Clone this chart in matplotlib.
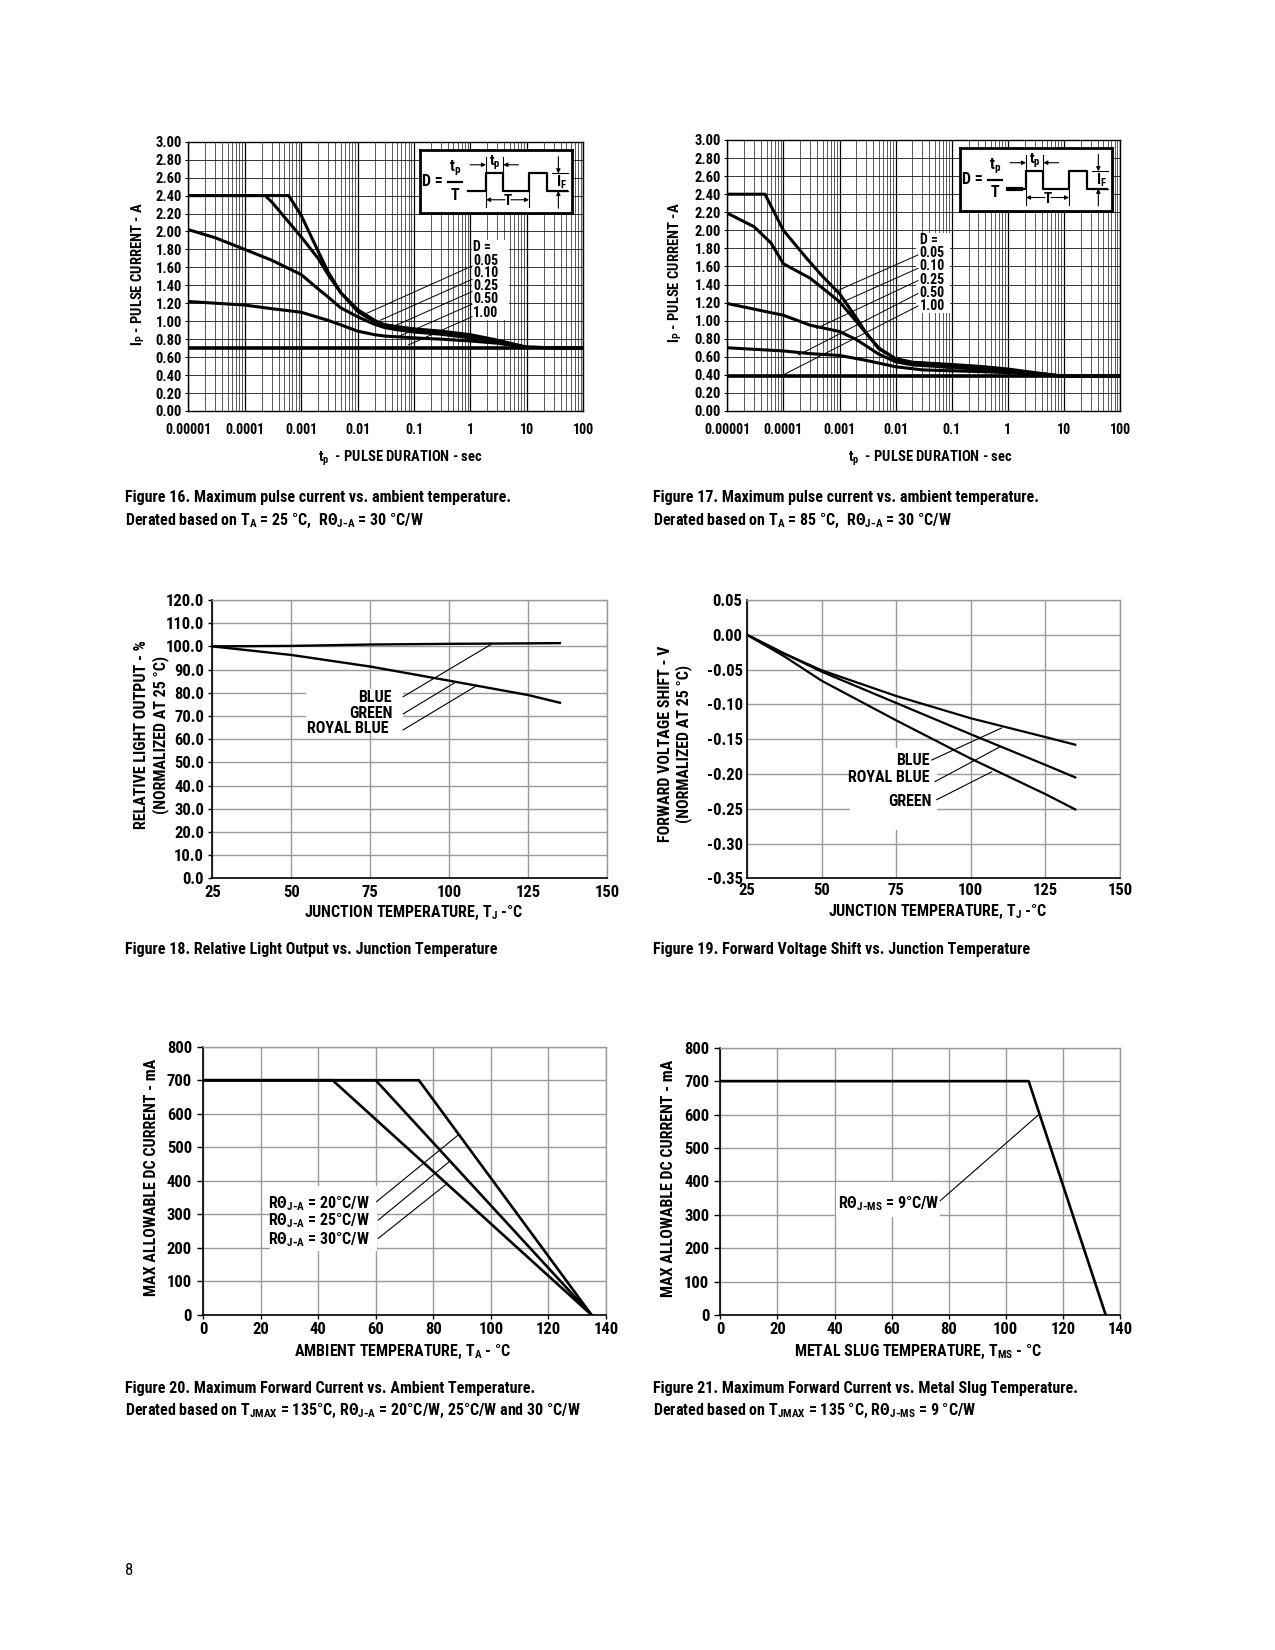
import numpy as np
import matplotlib
matplotlib.use('Agg')
import matplotlib.pyplot as plt
from matplotlib import font_manager as fm
from matplotlib.patches import Rectangle
from matplotlib.ticker import LogLocator, NullFormatter, FixedLocator

W, H = 1275, 1650
_names = {f.name for f in fm.fontManager.ttflist}
FONT = 'DejaVu Sans'
for cand in ['Liberation Sans Narrow', 'Roboto Condensed', 'Open Sans Condensed', 'Liberation Sans']:
    if cand in _names:
        FONT = cand
        break
plt.rcParams['font.family'] = [FONT, 'DejaVu Sans']
plt.rcParams['font.weight'] = 'bold'
plt.rcParams['mathtext.default'] = 'regular'
plt.rcParams['axes.unicode_minus'] = False

# ------------------------- DATA -------------------------
# Figure 16 : pulse current (A) vs pulse duration (s), TA = 25 C
f16_d005_t = [1e-5, 6e-4, 1e-3, 2e-3, 3e-3, 5e-3, 1e-2, 1.5e-2, 2e-2, 3e-2, 1e-1, 0.3, 1, 3, 10, 100]
f16_d005_i = [2.40, 2.40, 2.18, 1.78, 1.55, 1.32, 1.11, 1.04, 1.00, 0.96, 0.915, 0.89, 0.85, 0.79, 0.71, 0.70]
f16_d010_t = [1e-5, 2.3e-4, 3e-4, 1e-3, 2e-3, 3e-3, 5e-3, 1e-2, 2e-2, 3e-2, 1e-1, 0.3, 1, 3, 10, 100]
f16_d010_i = [2.40, 2.40, 2.33, 1.94, 1.70, 1.52, 1.32, 1.13, 1.01, 0.96, 0.90, 0.87, 0.83, 0.78, 0.71, 0.70]
f16_d025_t = [1e-5, 3e-5, 1e-4, 3e-4, 1e-3, 2e-3, 3e-3, 5e-3, 1e-2, 2e-2, 3e-2, 5e-2, 1e-1, 0.3, 1, 3, 10, 100]
f16_d025_i = [2.02, 1.93, 1.80, 1.68, 1.52, 1.36, 1.27, 1.15, 1.05, 0.965, 0.93, 0.905, 0.88, 0.855, 0.815, 0.77, 0.71, 0.70]
f16_d050_t = [1e-5, 1e-4, 3e-4, 1e-3, 3e-3, 5e-3, 1e-2, 2e-2, 3e-2, 1e-1, 0.3, 1, 3, 10, 100]
f16_d050_i = [1.22, 1.18, 1.14, 1.10, 1.01, 0.96, 0.89, 0.85, 0.835, 0.815, 0.80, 0.78, 0.755, 0.71, 0.70]
f16_d100_t = [1e-5, 100]
f16_d100_i = [0.70, 0.70]

# Figure 17 : pulse current (A) vs pulse duration (s), TA = 85 C
f17_d005_t = [1e-5, 4.7e-5, 1e-4, 2.6e-4, 5e-4, 1e-3, 2e-3, 3e-3, 5e-3, 1e-2, 2e-2, 5e-2, 1e-1, 0.3, 1, 3, 10, 100]
f17_d005_i = [2.40, 2.40, 2.00, 1.69, 1.49, 1.30, 1.03, 0.86, 0.69, 0.58, 0.54, 0.525, 0.515, 0.495, 0.465, 0.425, 0.385, 0.385]
f17_d010_t = [1e-5, 3e-5, 6e-5, 1e-4, 3e-4, 1e-3, 2e-3, 3e-3, 5e-3, 1e-2, 2e-2, 5e-2, 1e-1, 0.3, 1, 3, 10, 100]
f17_d010_i = [2.19, 2.04, 1.86, 1.63, 1.47, 1.21, 0.99, 0.86, 0.70, 0.575, 0.535, 0.52, 0.505, 0.485, 0.455, 0.42, 0.385, 0.385]
f17_d025_t = [1e-5, 1e-4, 3e-4, 1e-3, 2e-3, 3e-3, 5e-3, 1e-2, 2e-2, 5e-2, 1e-1, 0.3, 1, 3, 10, 100]
f17_d025_i = [1.19, 1.06, 0.95, 0.88, 0.79, 0.72, 0.63, 0.545, 0.51, 0.495, 0.48, 0.465, 0.44, 0.41, 0.385, 0.385]
f17_d050_t = [1e-5, 1e-4, 3e-4, 1e-3, 3e-3, 1e-2, 3e-2, 1e-1, 0.3, 1, 3, 10, 100]
f17_d050_i = [0.70, 0.665, 0.635, 0.615, 0.56, 0.49, 0.455, 0.445, 0.437, 0.425, 0.405, 0.385, 0.385]
f17_d100_t = [1e-5, 100]
f17_d100_i = [0.385, 0.385]

duty_labels = ['0.05', '0.10', '0.25', '0.50', '1.00']
pulse_xticks = [1e-5, 1e-4, 1e-3, 1e-2, 1e-1, 1, 10, 100]
pulse_xlabels = ['0.00001', '0.0001', '0.001', '0.01', '0.1', '1', '10', '100']

# Figure 18 : relative light output (%) vs Tj
tj18 = [25, 50, 75, 100, 125, 135]
blue18 = [100.0, 100.2, 100.8, 101.1, 101.3, 101.4]
green_royal18 = [100.0, 96.3, 91.3, 85.2, 79.0, 75.7]

# Figure 19 : forward voltage shift (V) vs Tj
tj19 = [25, 37.5, 50, 75, 100, 125, 135]
blue19 = [0.0, -0.027, -0.051, -0.088, -0.120, -0.147, -0.158]
royal19 = [0.0, -0.027, -0.053, -0.098, -0.143, -0.187, -0.205]
green19 = [0.0, -0.031, -0.066, -0.123, -0.178, -0.229, -0.251]

# Figure 20 : max DC current (mA) vs ambient temperature
ta20_r20 = [0, 75, 135]
ta20_r25 = [0, 60, 135]
ta20_r30 = [0, 45, 135]
i20 = [700, 700, 0]

# Figure 21 : max DC current (mA) vs metal slug temperature
tms21 = [0, 108, 135]
i21 = [700, 700, 0]

# ------------------------- FIGURE -------------------------
fig = plt.figure(figsize=(W / 100, H / 100), dpi=100)
fig.patch.set_facecolor('white')


def axes_px(l, r, t, b):
    return fig.add_axes([l / W, 1 - b / H, (r - l) / W, (b - t) / H])


def ftext(x, y, s, **kw):
    kw.setdefault('ha', 'center')
    kw.setdefault('va', 'center')
    return fig.text(x / W, 1 - y / H, s, **kw)


def arrow(ax, xy, xytext):
    ax.annotate('', xy=xy, xytext=xytext,
                arrowprops=dict(arrowstyle='-|>', color='k', lw=0.8,
                                mutation_scale=6, shrinkA=0, shrinkB=0))


def pulse_inset(rect, thick_lead=False):
    ia = fig.add_axes(rect, zorder=6)
    ia.set_xlim(0, 1)
    ia.set_ylim(0, 1)
    ia.set_xticks([])
    ia.set_yticks([])
    ia.set_facecolor('white')
    for s in ia.spines.values():
        s.set_linewidth(2.0)
    ia.text(0.015, 0.50, 'D =', fontsize=11.5, ha='left', va='center')
    ia.text(0.232, 0.71, 't$_p$', fontsize=11.5, ha='center', va='center')
    ia.plot([0.185, 0.28], [0.50, 0.50], color='k', lw=1.6)
    ia.text(0.232, 0.29, 'T', fontsize=11.5, ha='center', va='center')
    low, high = 0.355, 0.634
    wx = [0.319, 0.435, 0.435, 0.549, 0.549, 0.719, 0.719, 0.835, 0.835, 0.967]
    wy = [low, low, high, high, low, low, high, high, low, low]
    ia.plot(wx, wy, color='k', lw=1.6)
    if thick_lead:
        ia.plot([0.319, 0.40], [low, low], color='k', lw=3)
    for x in (0.435, 0.549):
        ia.plot([x, x], [high, 0.90], color='k', lw=0.8)
    arrow(ia, (0.435, 0.77), (0.33, 0.77))
    arrow(ia, (0.549, 0.77), (0.65, 0.77))
    ia.text(0.492, 0.80, 't$_p$', fontsize=11, ha='center', va='center')
    for x in (0.435, 0.719):
        ia.plot([x, x], [0.10, low], color='k', lw=0.8)
    arrow(ia, (0.435, 0.215), (0.56, 0.215))
    arrow(ia, (0.719, 0.215), (0.60, 0.215))
    ia.text(0.58, 0.19, 'T', fontsize=11, ha='center', va='center')
    ia.plot([0.87, 0.975], [high, high], color='k', lw=0.8)
    ia.plot([0.87, 0.975], [low, low], color='k', lw=0.8)
    arrow(ia, (0.912, high), (0.912, 0.90))
    arrow(ia, (0.912, low), (0.912, 0.08))
    ia.text(0.897, 0.49, 'I$_F$', fontsize=11, ha='left', va='center')
    return ia


def pulse_axes(ax, curves, labels_x, labels_y, leaders, white_box):
    ax.set_xscale('log')
    ax.set_xlim(1e-5, 100)
    ax.set_ylim(0, 3.0)
    ax.set_axisbelow(True)
    ax.xaxis.set_major_locator(FixedLocator(pulse_xticks))
    ax.set_xticklabels(pulse_xlabels)
    ax.xaxis.set_minor_locator(LogLocator(base=10, subs=np.arange(2, 10), numticks=20))
    ax.xaxis.set_minor_formatter(NullFormatter())
    yt = np.round(np.arange(0, 3.01, 0.2), 2)
    ax.set_yticks(yt)
    ax.set_yticklabels(['%.2f' % v for v in yt])
    ax.grid(which='major', axis='x', color='k', lw=0.9)
    ax.grid(which='minor', axis='x', color='k', lw=0.45)
    ax.grid(which='major', axis='y', color='k', lw=0.55)
    ax.tick_params(axis='x', which='both', length=0, pad=8.5, labelsize=10)
    ax.tick_params(axis='y', length=2.5, pad=2, labelsize=10.5)
    for s in ax.spines.values():
        s.set_linewidth(1.0)
    for (t, i), lw in curves:
        ax.plot(t, i, color='k', lw=lw, solid_capstyle='butt', solid_joinstyle='round', zorder=3)
    (bx0, bx1), (by0, by1) = white_box
    ax.add_patch(Rectangle((bx0, by0), bx1 - bx0, by1 - by0, facecolor='white',
                           edgecolor='none', zorder=1.5))
    texts = ['D ='] + duty_labels
    for s, y in zip(texts, labels_y):
        ax.text(labels_x, y, s, fontsize=10, ha='left', va='center', zorder=4)
    for (p0, p1) in leaders:
        ax.plot([p0[0], p1[0]], [p0[1], p1[1]], color='k', lw=0.7, zorder=3)


# ---------------- Figure 16 ----------------
ax16 = axes_px(188.3, 583.3, 141.7, 411)
pulse_axes(ax16,
           [((f16_d005_t, f16_d005_i), 2.2), ((f16_d010_t, f16_d010_i), 2.2),
            ((f16_d025_t, f16_d025_i), 2.2), ((f16_d050_t, f16_d050_i), 2.2),
            ((f16_d100_t, f16_d100_i), 2.6)],
           1.11, [1.823, 1.675, 1.534, 1.392, 1.244, 1.095],
           [((0.0147, 1.09), (1.07, 1.615)), ((0.025, 1.01), (1.07, 1.467)),
            ((0.0376, 0.925), (1.07, 1.33)), ((0.0535, 0.83), (1.07, 1.19)),
            ((0.079, 0.735), (1.07, 1.05))],
           ((1.07, 4.8), (1.014, 1.905)))
pulse_inset([420 / W, 1 - 213.3 / H, 151.7 / W, 63 / H])
ftext(138.3, 274, 'I$_P$ - PULSE CURRENT - A', rotation=90, fontsize=10.5)
ftext(400, 458.7, 't$_p$  - PULSE DURATION - sec', fontsize=10.5)

# ---------------- Figure 17 ----------------
ax17 = axes_px(727.3, 1120, 140, 411)
pulse_axes(ax17,
           [((f17_d005_t, f17_d005_i), 2.2), ((f17_d010_t, f17_d010_i), 2.2),
            ((f17_d025_t, f17_d025_i), 2.2), ((f17_d050_t, f17_d050_i), 2.2),
            ((f17_d100_t, f17_d100_i), 2.6)],
           0.027, [1.89, 1.745, 1.60, 1.455, 1.31, 1.165],
           [((8.3e-4, 1.32), (0.025, 1.727)), ((1.17e-3, 1.21), (0.025, 1.579)),
            ((3.9e-4, 0.915), (0.025, 1.443)), ((1.86e-4, 0.62), (0.025, 1.30)),
            ((1e-4, 0.40), (0.025, 1.162))],
           ((0.0235, 0.093), (1.08, 1.967)))
pulse_inset([960 / W, 1 - 211 / H, 151.7 / W, 62.7 / H], thick_lead=True)
ftext(675, 273, 'I$_P$ - PULSE CURRENT -A', rotation=90, fontsize=10.5)
ftext(930, 458.3, 't$_p$  - PULSE DURATION - sec', fontsize=10.5)

GRID = '#9a9a9a'


def fmt_zero(fmt):
    return lambda v: fmt % (0.0 if abs(v) < 1e-9 else v)


def temp_axes(ax, xlim, xt, ylim, yt, yfmt, ylen=3.0, ypad=3.0, xpad=4.5, xlen=0):
    ax.set_xlim(*xlim)
    ax.set_ylim(*ylim)
    ax.set_axisbelow(True)
    ax.set_xticks(xt)
    ax.set_yticks(yt)
    ax.set_yticklabels([yfmt(v) for v in yt])
    ax.grid(True, color=GRID, lw=1.0)
    ax.tick_params(axis='y', length=ylen, pad=ypad, labelsize=12, width=1)
    ax.tick_params(axis='x', length=xlen, pad=xpad, labelsize=12, width=1)
    for side in ('top', 'right'):
        ax.spines[side].set_color(GRID)
        ax.spines[side].set_linewidth(1.0)
    for side in ('left', 'bottom'):
        ax.spines[side].set_color('k')
        ax.spines[side].set_linewidth(1.2)


# ---------------- Figure 18 ----------------
ax18 = axes_px(212.3, 607.3, 600, 878.3)
temp_axes(ax18, (25, 150), [25, 50, 75, 100, 125, 150], (0, 120),
          np.arange(0, 121, 10), fmt_zero('%.1f'), ylen=3.0, ypad=3.0)
ax18.plot(tj18, blue18, color='k', lw=1.7, zorder=3)
ax18.plot(tj18, green_royal18, color='k', lw=1.7, zorder=3)
ax18.add_patch(Rectangle((54.5, 62.5), 85.4 - 54.5, 81.5 - 62.5, facecolor='white',
                         edgecolor='none', zorder=1.5))
for s, x, y in [('BLUE', 81.8, 78.0), ('GREEN', 82.1, 70.9), ('ROYAL BLUE', 80.8, 64.7)]:
    ax18.text(x, y, s, fontsize=11.5, ha='right', va='center', zorder=4)
for p0, p1 in [((85.4, 78.3), (113.4, 101.0)), ((85.4, 70.9), (101.8, 84.4)),
               ((85.4, 64.0), (108.1, 82.6))]:
    ax18.plot([p0[0], p1[0]], [p0[1], p1[1]], color='k', lw=0.8, zorder=3)
ftext(151.7, 735, 'RELATIVE LIGHT OUTPUT - %\n(NORMALIZED AT 25 °C)', rotation=90,
      fontsize=11.5, linespacing=1.2, multialignment='center')
ftext(413.3, 912.7, 'JUNCTION TEMPERATURE, T$_J$ -°C', fontsize=11.5)

# ---------------- Figure 19 ----------------
ax19 = axes_px(747, 1120, 600, 878.3)
temp_axes(ax19, (25, 150), [25, 50, 75, 100, 125, 150], (-0.35, 0.05),
          np.round(np.arange(-0.35, 0.051, 0.05), 2), fmt_zero('%.2f'),
          ylen=0, ypad=3.2, xpad=3.5)
ax19.plot(tj19, blue19, color='k', lw=1.6, zorder=3)
ax19.plot(tj19, royal19, color='k', lw=1.6, zorder=3)
ax19.plot(tj19, green19, color='k', lw=1.6, zorder=3)
ax19.add_patch(Rectangle((59.5, -0.28), 88.7 - 59.5, 0.28 - 0.163, facecolor='white',
                         edgecolor='none', zorder=1.5))
for s, x, y in [('BLUE', 86.3, -0.180), ('ROYAL BLUE', 86.3, -0.205), ('GREEN', 86.8, -0.240)]:
    ax19.text(x, y, s, fontsize=11.5, ha='right', va='center', zorder=4)
for p0, p1 in [((86.9, -0.180), (110.3, -0.134)), ((88.0, -0.211), (109.8, -0.161)),
               ((88.6, -0.237), (107.0, -0.197))]:
    ax19.plot([p0[0], p1[0]], [p0[1], p1[1]], color='k', lw=0.8, zorder=3)
ftext(675, 744, 'FORWARD VOLTAGE SHIFT - V\n(NORMALIZED AT 25 °C)', rotation=90,
      fontsize=11.5, linespacing=1.2, multialignment='center')
ftext(938, 911.7, 'JUNCTION TEMPERATURE, T$_J$ -°C', fontsize=11.5)

# ---------------- Figure 20 ----------------
ax20 = axes_px(203, 606, 1046.7, 1315)
temp_axes(ax20, (0, 140), np.arange(0, 141, 20), (0, 800), np.arange(0, 801, 100),
          lambda v: '%d' % v, ylen=4, ypad=4, xlen=3, xpad=2)
for ta in (ta20_r20, ta20_r25, ta20_r30):
    ax20.plot(ta, i20, color='k', lw=1.9, zorder=3)
ax20.add_patch(Rectangle((23.3, 192), 60.3 - 23.3, 385 - 192, facecolor='white',
                         edgecolor='none', zorder=1.5))
for s, y in [('RΘ$_{J\\text{-}A}$ = 20°C/W', 333), ('RΘ$_{J\\text{-}A}$ = 25°C/W', 281),
             ('RΘ$_{J\\text{-}A}$ = 30°C/W', 225.6)]:
    ax20.text(58.0, y, s, fontsize=11.5, ha='right', va='center', zorder=4)
for p0, p1 in [((60.3, 338), (88.7, 537)), ((60.9, 283), (85.8, 459)),
               ((60.9, 228.6), (84.6, 390.6))]:
    ax20.plot([p0[0], p1[0]], [p0[1], p1[1]], color='k', lw=0.8, zorder=3)
ftext(151.7, 1177, 'MAX ALLOWABLE DC CURRENT - mA', rotation=90, fontsize=11.5)
ftext(403, 1351.7, 'AMBIENT TEMPERATURE, T$_A$ - °C', fontsize=11.5)

# ---------------- Figure 21 ----------------
ax21 = axes_px(720.3, 1120, 1047.7, 1315)
temp_axes(ax21, (0, 140), np.arange(0, 141, 20), (0, 800), np.arange(0, 801, 100),
          lambda v: '%d' % v, ylen=4, ypad=4, xlen=3, xpad=2)
ax21.plot(tms21, i21, color='k', lw=1.9, zorder=3)
ax21.add_patch(Rectangle((40.5, 294), 77 - 40.5, 399 - 294, facecolor='white',
                         edgecolor='none', zorder=1.5))
ax21.text(41.3, 334, 'RΘ$_{J\\text{-}MS}$ = 9°C/W', fontsize=11.5, ha='left', va='center', zorder=4)
ax21.plot([77, 111.4], [342, 598.5], color='k', lw=0.8, zorder=3)
ftext(668.3, 1178, 'MAX ALLOWABLE DC CURRENT - mA', rotation=90, fontsize=11.5)
ftext(918, 1351.7, 'METAL SLUG TEMPERATURE, T$_{MS}$ - °C', fontsize=11.5)

# ---------------- Captions ----------------
CAP = 11.5
ftext(125.2, 497.6, 'Figure 16. Maximum pulse current vs. ambient temperature.', ha='left', fontsize=CAP)
ftext(125.2, 520.7, 'Derated based on T$_A$ = 25 °C,  RΘ$_{J\\text{-}A}$ = 30 °C/W', ha='left', fontsize=CAP)
ftext(653.3, 497.6, 'Figure 17. Maximum pulse current vs. ambient temperature.', ha='left', fontsize=CAP)
ftext(653.3, 520.7, 'Derated based on T$_A$ = 85 °C,  RΘ$_{J\\text{-}A}$ = 30 °C/W', ha='left', fontsize=CAP)
ftext(125.2, 949, 'Figure 18. Relative Light Output vs. Junction Temperature', ha='left', fontsize=CAP)
ftext(653.3, 949, 'Figure 19. Forward Voltage Shift vs. Junction Temperature', ha='left', fontsize=CAP)
ftext(125.2, 1388.6, 'Figure 20. Maximum Forward Current vs. Ambient Temperature.', ha='left', fontsize=CAP)
ftext(125.2, 1410.7, 'Derated based on T$_{JMAX}$ = 135°C, RΘ$_{J\\text{-}A}$ = 20°C/W, 25°C/W and 30 °C/W',
      ha='left', fontsize=CAP)
ftext(653.3, 1388.6, 'Figure 21. Maximum Forward Current vs. Metal Slug Temperature.', ha='left', fontsize=CAP)
ftext(653.3, 1410.7, 'Derated based on T$_{JMAX}$ = 135 °C, RΘ$_{J\\text{-}MS}$ = 9 °C/W', ha='left', fontsize=CAP)
ftext(129.4, 1570.6, '8', fontsize=12, fontweight='normal')

fig.savefig('out.png', dpi=100, facecolor='white')
